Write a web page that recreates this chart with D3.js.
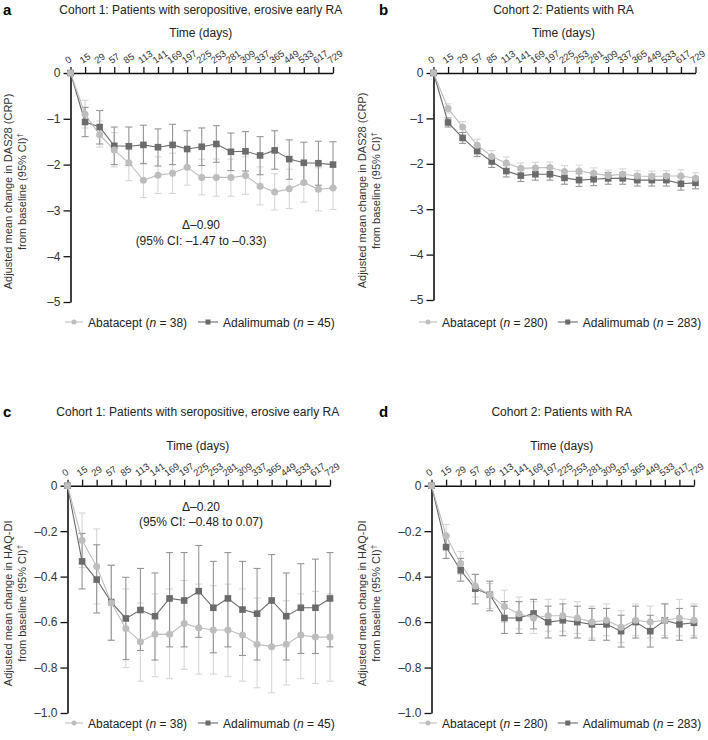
<!DOCTYPE html>
<html><head><meta charset="utf-8">
<script src="https://cdn.jsdelivr.net/npm/d3@7"></script>
<style>
body{margin:0;background:#fff;}
svg{display:block;font-family:"Liberation Sans",Arial,sans-serif;}
</style></head>
<body><svg id="c" width="708" height="740"></svg>
<script>
const days = ["0","15","29","57","85","113","141","169","197","225","253","281","309","337","365","449","533","617","729"];

// Panel a: DAS28 (CRP), Cohort 1
const aAbaMean  = [0,-0.90,-1.35,-1.68,-1.96,-2.34,-2.23,-2.19,-2.06,-2.28,-2.28,-2.28,-2.24,-2.47,-2.60,-2.53,-2.39,-2.54,-2.51];
const aAbaUpper = [0,-0.60,-1.05,-1.30,-1.55,-1.97,-1.83,-1.75,-1.67,-1.88,-1.88,-1.88,-1.83,-2.05,-2.20,-2.10,-1.97,-2.07,-2.04];
const aAbaLower = [0,-1.20,-1.62,-2.05,-2.35,-2.72,-2.63,-2.63,-2.45,-2.66,-2.69,-2.69,-2.65,-2.88,-2.99,-2.96,-2.82,-3.01,-2.98];
const aAdaMean  = [0,-1.07,-1.18,-1.59,-1.60,-1.57,-1.62,-1.57,-1.66,-1.61,-1.55,-1.72,-1.71,-1.80,-1.69,-1.88,-1.96,-1.97,-2.00];
const aAdaUpper = [0,-0.75,-0.82,-1.18,-1.18,-1.14,-1.22,-1.12,-1.26,-1.20,-1.15,-1.31,-1.28,-1.39,-1.26,-1.46,-1.51,-1.49,-1.50];
const aAdaLower = [0,-1.39,-1.55,-2.00,-2.02,-1.98,-2.03,-2.00,-2.05,-2.02,-1.95,-2.13,-2.14,-2.22,-2.10,-2.32,-2.42,-2.45,-2.50];

// Panel b: DAS28 (CRP), Cohort 2
const bAbaMean  = [0,-0.78,-1.19,-1.59,-1.84,-1.98,-2.10,-2.09,-2.08,-2.17,-2.16,-2.21,-2.26,-2.23,-2.27,-2.28,-2.27,-2.27,-2.32];
const bAbaUpper = [0,-0.68,-1.07,-1.46,-1.71,-1.85,-1.98,-1.97,-1.96,-2.04,-2.03,-2.09,-2.14,-2.11,-2.15,-2.16,-2.15,-2.13,-2.20];
const bAbaLower = [0,-0.88,-1.31,-1.72,-1.97,-2.11,-2.22,-2.21,-2.20,-2.30,-2.29,-2.33,-2.38,-2.35,-2.39,-2.40,-2.39,-2.41,-2.44];
const bAdaMean  = [0,-1.09,-1.43,-1.72,-1.95,-2.16,-2.26,-2.23,-2.23,-2.31,-2.36,-2.34,-2.32,-2.32,-2.36,-2.36,-2.36,-2.44,-2.42];
const bAdaUpper = [0,-0.99,-1.31,-1.60,-1.82,-2.03,-2.13,-2.10,-2.10,-2.17,-2.22,-2.20,-2.19,-2.19,-2.23,-2.23,-2.23,-2.30,-2.29];
const bAdaLower = [0,-1.19,-1.55,-1.84,-2.08,-2.29,-2.39,-2.36,-2.36,-2.45,-2.50,-2.48,-2.45,-2.45,-2.49,-2.49,-2.49,-2.58,-2.55];

// Panel c: HAQ-DI, Cohort 1
const cAbaMean  = [0,-0.240,-0.355,-0.515,-0.628,-0.686,-0.654,-0.654,-0.606,-0.625,-0.635,-0.635,-0.657,-0.698,-0.708,-0.698,-0.657,-0.666,-0.666];
const cAbaUpper = [0,-0.120,-0.190,-0.350,-0.454,-0.516,-0.476,-0.454,-0.417,-0.433,-0.440,-0.433,-0.454,-0.494,-0.510,-0.506,-0.476,-0.465,-0.476];
const cAbaLower = [0,-0.360,-0.520,-0.680,-0.800,-0.860,-0.840,-0.849,-0.808,-0.829,-0.829,-0.840,-0.860,-0.889,-0.911,-0.877,-0.849,-0.870,-0.860];
const cAdaMean  = [0,-0.333,-0.413,-0.512,-0.584,-0.547,-0.574,-0.496,-0.505,-0.464,-0.537,-0.496,-0.545,-0.563,-0.505,-0.574,-0.537,-0.537,-0.496];
const cAdaUpper = [0,-0.210,-0.260,-0.350,-0.403,-0.364,-0.384,-0.294,-0.294,-0.263,-0.333,-0.294,-0.333,-0.364,-0.303,-0.384,-0.343,-0.323,-0.294];
const cAdaLower = [0,-0.454,-0.560,-0.680,-0.765,-0.725,-0.767,-0.709,-0.709,-0.667,-0.735,-0.709,-0.747,-0.767,-0.706,-0.767,-0.738,-0.738,-0.709];

// Panel d: HAQ-DI, Cohort 2
const dAbaMean  = [0,-0.220,-0.342,-0.441,-0.480,-0.532,-0.563,-0.582,-0.572,-0.572,-0.582,-0.600,-0.592,-0.623,-0.592,-0.600,-0.592,-0.582,-0.592];
const dAbaUpper = [0,-0.170,-0.290,-0.390,-0.430,-0.460,-0.490,-0.510,-0.500,-0.500,-0.510,-0.530,-0.520,-0.550,-0.520,-0.530,-0.520,-0.500,-0.520];
const dAbaLower = [0,-0.270,-0.390,-0.490,-0.540,-0.600,-0.630,-0.650,-0.640,-0.640,-0.650,-0.670,-0.660,-0.690,-0.660,-0.670,-0.660,-0.660,-0.660];
const dAdaMean  = [0,-0.270,-0.372,-0.453,-0.480,-0.582,-0.582,-0.562,-0.600,-0.592,-0.600,-0.610,-0.610,-0.640,-0.600,-0.640,-0.592,-0.610,-0.603];
const dAdaUpper = [0,-0.220,-0.320,-0.390,-0.420,-0.510,-0.510,-0.500,-0.530,-0.520,-0.530,-0.540,-0.540,-0.570,-0.530,-0.570,-0.520,-0.540,-0.530];
const dAdaLower = [0,-0.320,-0.420,-0.520,-0.550,-0.650,-0.650,-0.630,-0.670,-0.660,-0.670,-0.680,-0.680,-0.710,-0.670,-0.710,-0.670,-0.680,-0.670];

const dasTicks = [0,-1,-2,-3,-4,-5];
const haqTicks = [0,-0.2,-0.4,-0.6,-0.8,-1.0];

const titles = ["Cohort 1: Patients with seropositive, erosive early RA","Cohort 2: Patients with RA"];
const legendN = [["38","45"],["280","283"]];

const C_ABA = "#bdbdbd", C_ABA_ERR = "#d6d6d6", C_ADA = "#6b6b6b", C_ADA_ERR = "#959595";

const panels = [
  {letter:"a", L:70.5, R:333,   T:73,  B:302, dom:[-5,0], ticks:dasTicks, fmt:d=>d===0?"0":"\u2013"+Math.abs(d), ytitle:"Adjusted mean change in DAS28 (CRP)",
   aba:[aAbaMean,aAbaLower,aAbaUpper], ada:[aAdaMean,aAdaLower,aAdaUpper], title:titles[0], n:legendN[0], note:["\u0394\u20130.90","(95% CI: \u20131.47 to \u20130.33)"], noteY:[229,245]},
  {letter:"b", L:433.5, R:695.5, T:73, B:300, dom:[-5,0], ticks:dasTicks, fmt:d=>d===0?"0":"\u2013"+Math.abs(d), ytitle:"Adjusted mean change in DAS28 (CRP)",
   aba:[bAbaMean,bAbaLower,bAbaUpper], ada:[bAdaMean,bAdaLower,bAdaUpper], title:titles[1], n:legendN[1]},
  {letter:"c", L:67.5, R:330,   T:485.7, B:713, dom:[-1,0], ticks:haqTicks, fmt:d=>d===0?"0":"\u2013"+Math.abs(d).toFixed(1), ytitle:"Adjusted mean change in HAQ-DI",
   aba:[cAbaMean,cAbaLower,cAbaUpper], ada:[cAdaMean,cAdaLower,cAdaUpper], title:titles[0], n:legendN[0], note:["\u0394\u20130.20","(95% CI: \u20130.48 to 0.07)"], noteY:[511,526]},
  {letter:"d", L:431.5, R:694, T:485.7, B:713, dom:[-1,0], ticks:haqTicks, fmt:d=>d===0?"0":"\u2013"+Math.abs(d).toFixed(1), ytitle:"Adjusted mean change in HAQ-DI",
   aba:[dAbaMean,dAbaLower,dAbaUpper], ada:[dAdaMean,dAdaLower,dAdaUpper], title:titles[1], n:legendN[1]}
];

const svg = d3.select("#c");

panels.forEach((p,pi)=>{
  const g = svg.append("g");
  const x = d3.scalePoint().domain(days).range([p.L,p.R]);
  const y = d3.scaleLinear().domain(p.dom).range([p.B,p.T]);
  const isLeft = (pi%2===0);
  const baseX = isLeft?0:354;

  // letter
  g.append("text").attr("x",baseX+(isLeft?3:25)).attr("y",(pi<2?15:417)).attr("font-size",15).attr("font-weight","bold").text(p.letter);
  // title
  const cx = (p.L+p.R)/2 - 1;
  g.append("text").attr("x",cx).attr("y",(pi<2?14:416)).attr("text-anchor","middle").attr("font-size",12).attr("fill","#222").text(p.title);
  g.append("text").attr("x",cx).attr("y",p.T-36).attr("text-anchor","middle").attr("font-size",12).attr("fill","#222").text("Time (days)");

  // x axis (top)
  const xa = g.append("g").attr("transform",`translate(0,${p.T})`)
    .call(d3.axisTop(x).tickSize(6).tickSizeOuter(0));
  xa.select(".domain").attr("stroke","#111").attr("stroke-width",1.6);
  xa.selectAll(".tick line").attr("stroke","#111").attr("stroke-width",1.3);
  xa.selectAll(".tick text").attr("font-size",9.5).attr("fill","#333").attr("font-family","Liberation Sans, Arial, sans-serif")
    .attr("text-anchor","start").attr("dy",0).attr("y",0)
    .attr("transform","translate(-3,-9) rotate(-35)");

  // y axis
  const ya = g.append("g").attr("transform",`translate(${p.L},0)`)
    .call(d3.axisLeft(y).tickValues(p.ticks).tickFormat(p.fmt).tickSize(7).tickPadding(3).tickSizeOuter(0));
  ya.select(".domain").attr("stroke","#111").attr("stroke-width",1.6);
  ya.selectAll(".tick line").attr("stroke","#111").attr("stroke-width",1.3);
  ya.selectAll(".tick text").attr("font-size",12).attr("fill","#333").attr("font-family","Liberation Sans, Arial, sans-serif");

  // y title
  const ymid = (p.T+p.B)/2 + 4;
  const tx = baseX + 12;
  const yt = g.append("text").attr("transform",`translate(${tx},${ymid}) rotate(-90)`).attr("text-anchor","middle").attr("font-size",11).attr("fill","#333");
  yt.append("tspan").attr("x",0).attr("dy",0).text(p.ytitle);
  yt.append("tspan").attr("x",0).attr("dy",13.5).text("from baseline (95% CI)");
  yt.append("tspan").attr("font-size",8).attr("dy",-4).text("\u2020");

  const series = [
    {d:p.ada, col:C_ADA, err:C_ADA_ERR, shape:"sq"},
    {d:p.aba, col:C_ABA, err:C_ABA_ERR, shape:"ci"}
  ];
  // error bars
  [series[1],series[0]].forEach(s=>{
    const eg = g.append("g").attr("stroke",s.err).attr("stroke-width",1.1).attr("fill","none");
    days.forEach((dd,i)=>{
      if(i===0) return;
      const xi = x(dd);
      eg.append("line").attr("x1",xi).attr("x2",xi).attr("y1",y(s.d[2][i])).attr("y2",y(s.d[1][i]));
      eg.append("line").attr("x1",xi-3.5).attr("x2",xi+3.5).attr("y1",y(s.d[2][i])).attr("y2",y(s.d[2][i]));
      eg.append("line").attr("x1",xi-3.5).attr("x2",xi+3.5).attr("y1",y(s.d[1][i])).attr("y2",y(s.d[1][i]));
    });
  });
  // lines
  const line = d3.line().x((v,i)=>x(days[i])).y(v=>y(v));
  series.forEach(s=>{
    g.append("path").datum(s.d[0]).attr("d",line).attr("fill","none").attr("stroke",s.col).attr("stroke-width",1.1);
  });
  // markers
  series.forEach(s=>{
    const mg = g.append("g").attr("fill",s.col);
    s.d[0].forEach((v,i)=>{
      if(s.shape==="sq") mg.append("rect").attr("x",x(days[i])-3.3).attr("y",y(v)-3.3).attr("width",6.6).attr("height",6.6);
      else mg.append("circle").attr("cx",x(days[i])).attr("cy",y(v)).attr("r",3.5);
    });
  });

  // annotation
  if(p.note){
    g.append("text").attr("x",201).attr("y",p.noteY[0]).attr("text-anchor","middle").attr("font-size",12).attr("fill","#222").text(p.note[0]);
    g.append("text").attr("x",201).attr("y",p.noteY[1]).attr("text-anchor","middle").attr("font-size",12).attr("fill","#222").text(p.note[1]);
  }

  // legend
  const ly = (pi<2?322:723);
  const lg = g.append("g");
  const l1 = baseX+65, l2 = baseX+198;
  lg.append("line").attr("x1",l1).attr("x2",l1+18).attr("y1",ly).attr("y2",ly).attr("stroke",C_ABA).attr("stroke-width",1.1);
  lg.append("circle").attr("cx",l1+9).attr("cy",ly).attr("r",2.5).attr("fill",C_ABA);
  const lt1 = lg.append("text").attr("x",l1+23).attr("y",ly+4.5).attr("font-size",12).attr("fill","#222");
  lt1.append("tspan").text("Abatacept (");
  lt1.append("tspan").attr("font-style","italic").text("n");
  lt1.append("tspan").text(" = "+p.n[0]+")");
  const w1 = lt1.node().getComputedTextLength();
  const l2x = Math.max(l2, l1+23+w1+10);
  lg.append("line").attr("x1",l2x).attr("x2",l2x+20).attr("y1",ly).attr("y2",ly).attr("stroke",C_ADA).attr("stroke-width",1.1);
  lg.append("rect").attr("x",l2x+10-2.5).attr("y",ly-2.5).attr("width",5).attr("height",5).attr("fill",C_ADA);
  const lt2 = lg.append("text").attr("x",l2x+25).attr("y",ly+4.5).attr("font-size",12).attr("fill","#222");
  lt2.append("tspan").text("Adalimumab (");
  lt2.append("tspan").attr("font-style","italic").text("n");
  lt2.append("tspan").text(" = "+p.n[1]+")");
});
</script></body></html>
